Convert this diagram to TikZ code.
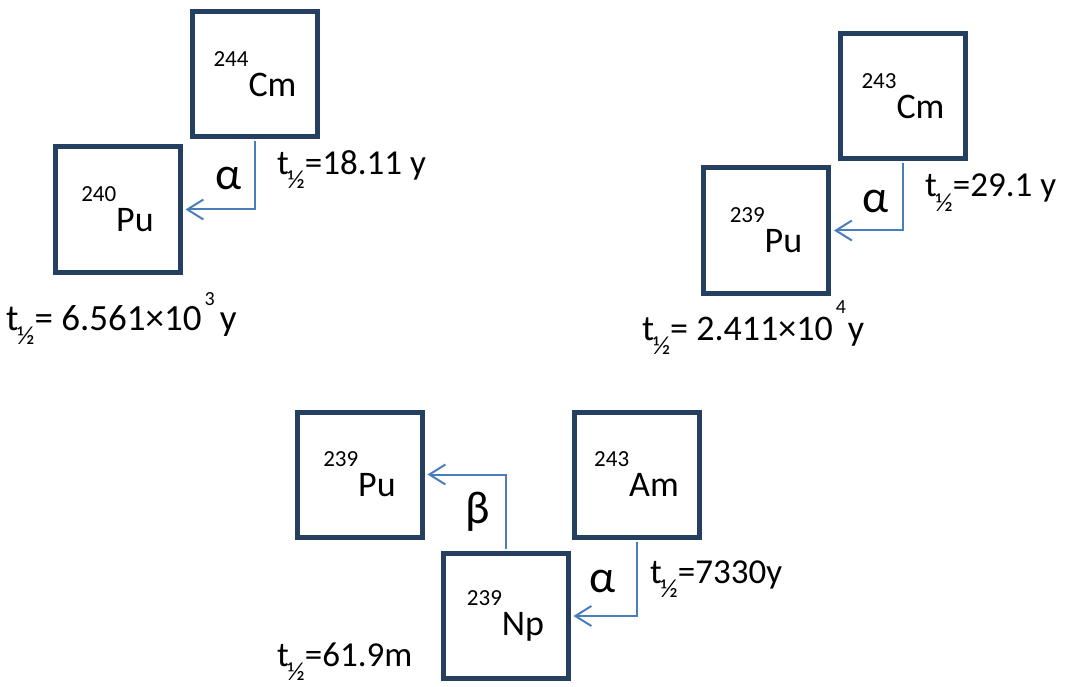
\documentclass[tikz,border=0pt]{standalone}
\usepackage{fontspec}
\setmainfont{Carlito}
\usetikzlibrary{arrows.meta, positioning}
\definecolor{boxnavy}{RGB}{36, 63, 96}
\definecolor{decayblue}{RGB}{74, 126, 187}
\newcommand{\thalf}{t\kern-1.5pt\raisebox{-14pt}{\fontsize{26}{26}\selectfont ½}}
\newcommand{\nuc}[2]{\raisebox{30pt}{\fontsize{23}{23}\selectfont #1}\fontsize{36}{36}\selectfont #2}

\begin{document}
\begin{tikzpicture}[
  x=1pt, y=-1pt,
  nbox/.style={draw=boxnavy, line width=5pt, minimum size=125pt, inner sep=0pt},
  decay/.style={draw=decayblue, line width=2pt, -{Straight Barb[length=16pt, width=20pt]}, shorten >=3pt, shorten <=2pt},
  lbl/.style={anchor=base west, inner sep=0pt, font=\fontsize{35}{35}\selectfont},
  greek/.style={anchor=base west, inner sep=0pt, font=\fontsize{46}{46}\selectfont}
]
  \useasboundingbox (0,0) rectangle (1068,687);

  % alpha decay of 244Cm
  \node[nbox] (cmA) at (255, 74) {\nuc{244}{Cm}};
  \node[nbox] (puA) at (117.5, 209.5) {\nuc{240}{Pu}};
  \draw[decay] (cmA.south) |- (puA.east);
  \node[greek] (alphaA) at (215, 190) {α};
  \node[lbl] (tcmA) at (277, 175) {\thalf=18.11 y};
  \node[lbl, font=\fontsize{37}{37}\selectfont] (tpuA) at (6, 330)
    {\thalf= 6.561×10\kern3pt\raisebox{25pt}{\fontsize{20}{20}\selectfont 3}\kern5pt y};

  % alpha decay of 243Cm
  \node[nbox] (cmB) at (903, 96.5) {\nuc{243}{Cm}};
  \node[nbox] (puB) at (766, 230.5) {\nuc{239}{Pu}};
  \draw[decay] (cmB.south) |- (puB.east);
  \node[greek] (alphaB) at (862, 213) {α};
  \node[lbl] (tcmB) at (925, 197) {\thalf=29.1 y};
  \node[lbl, font=\fontsize{36}{36}\selectfont] (tpuB) at (642, 340)
    {\thalf= 2.411×10\kern3pt\raisebox{27pt}{\fontsize{20}{20}\selectfont 4}\kern2pt y};

  % 243Am -> 239Np -> 239Pu
  \node[nbox] (puC) at (359.5, 474.5) {\nuc{239}{Pu}};
  \node[nbox] (amC) at (636.5, 474.5) {\nuc{243}{Am}};
  \node[nbox] (npC) at (505.5, 616) {\nuc{239}{Np}};
  \draw[decay] (npC.north) |- (puC.east);
  \draw[decay] (amC.south) |- (npC.east);
  \node[greek] (betaC) at (465, 523) {β};
  \node[greek] (alphaC) at (589, 592) {α};
  \node[lbl] (tamC) at (650, 583) {\thalf=7330y};
  \node[lbl] (tnpC) at (277, 666) {\thalf=61.9m};
\end{tikzpicture}
\end{document}
